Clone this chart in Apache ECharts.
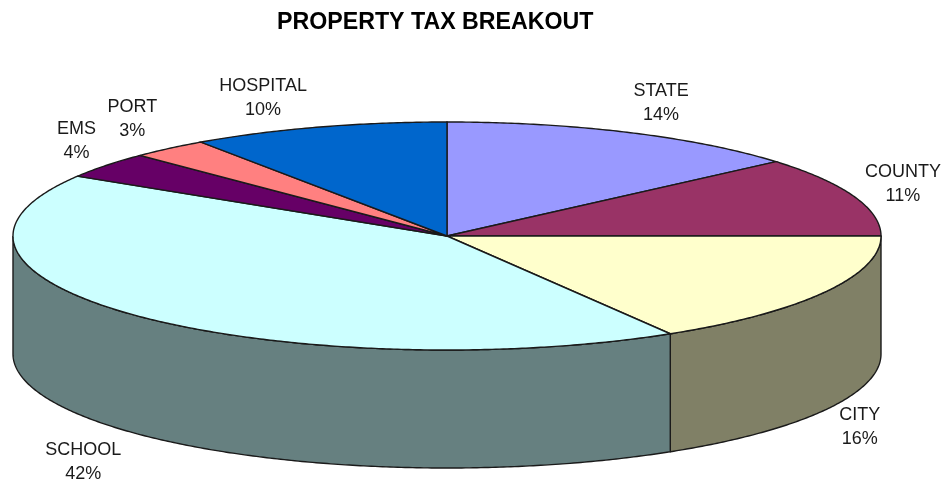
<!DOCTYPE html>
<html>
<head>
<meta charset="utf-8">
<title>Property tax breakout</title>
<script src="https://cdn.jsdelivr.net/npm/echarts@6/dist/echarts.min.js"></script>
<style>
  html, body { margin: 0; padding: 0; background: #fff; }
  #chart { width: 943px; height: 485px; }
</style>
</head>
<body>
<div id="chart"></div>
<script>
// clockwise from 12 o'clock (labels show them rounded)
const names = ["STATE", "COUNTY", "CITY", "SCHOOL", "EMS", "PORT", "HOSPITAL"];
const shares = [13.7, 11.3, 16.4, 42.4, 3.7, 2.9, 9.6];

const topColors = ["#9999ff", "#993366", "#ffffcc", "#ccffff", "#660066", "#ff8080", "#0066cc"];
const wallColors = ["#4d4d80", "#4d1a33", "#808066", "#668080", "#330033", "#804040", "#003366"];

// flattened disc
const cx = 447, cy = 236, rx = 434, ry = 114, depth = 118;
const edgeColor = "#1a1a1a";

// label centre relative to the rim point at the slice's middle
const labelShift = {
  STATE: [33, -29],
  COUNTY: [49, -12],
  CITY: [35, 135],
  SCHOOL: [-55, 146],
  EMS: [-30, -24],
  PORT: [-37, -29],
  HOSPITAL: [-55, -29]
};

const total = shares.reduce((a, b) => a + b, 0);
const starts = [];
shares.reduce((sum, v, i) => { starts[i] = sum; return sum + v; }, 0);

function rim(deg, drop) {
  const r = deg * Math.PI / 180;
  return [cx + rx * Math.sin(r), cy - ry * Math.cos(r) + (drop || 0)];
}

function arc(from, to, drop) {
  const pts = [];
  for (let d = from; d < to; d += 0.5) pts.push(rim(d, drop));
  pts.push(rim(to, drop));
  return pts;
}

function renderSlice(params, api) {
  const i = params.dataIndex;
  const a0 = starts[i] / total * 360;
  const a1 = (starts[i] + api.value(0)) / total * 360;
  const children = [];

  // only the front half of the wall can be seen
  const w0 = Math.max(a0, 90), w1 = Math.min(a1, 270);
  if (w1 > w0) {
    const wall = arc(w0, w1, 0).concat(arc(w0, w1, depth).reverse());
    children.push({
      type: "polygon",
      shape: { points: wall },
      style: { fill: wallColors[i], stroke: edgeColor, lineWidth: 1.4 }
    });
  }

  children.push({
    type: "polygon",
    shape: { points: [[cx, cy]].concat(arc(a0, a1, 0)) },
    style: { fill: topColors[i], stroke: edgeColor, lineWidth: 1.4 }
  });

  const mid = rim((a0 + a1) / 2, 0);
  const shift = labelShift[names[i]];
  children.push({
    type: "text",
    z2: 10,
    style: {
      x: mid[0] + shift[0],
      y: mid[1] + shift[1],
      text: names[i] + "\n" + Math.round(api.value(0)) + "%",
      align: "center",
      verticalAlign: "middle",
      fill: "#1a1a1a",
      font: "18px 'Liberation Sans', Arial, sans-serif",
      lineHeight: 24
    }
  });

  return { type: "group", children: children };
}

const chart = echarts.init(document.getElementById("chart"), null, { renderer: "canvas" });
chart.setOption({
  backgroundColor: "#ffffff",
  animation: false,
  title: {
    text: "PROPERTY TAX BREAKOUT",
    left: 272,
    top: 6,
    textStyle: {
      color: "#000000",
      fontFamily: "'Liberation Sans', Arial, sans-serif",
      fontWeight: "bold",
      fontSize: 23.2
    }
  },
  series: [{
    type: "custom",
    coordinateSystem: "none",
    renderItem: renderSlice,
    data: shares.map(v => [v])
  }]
});
</script>
</body>
</html>
